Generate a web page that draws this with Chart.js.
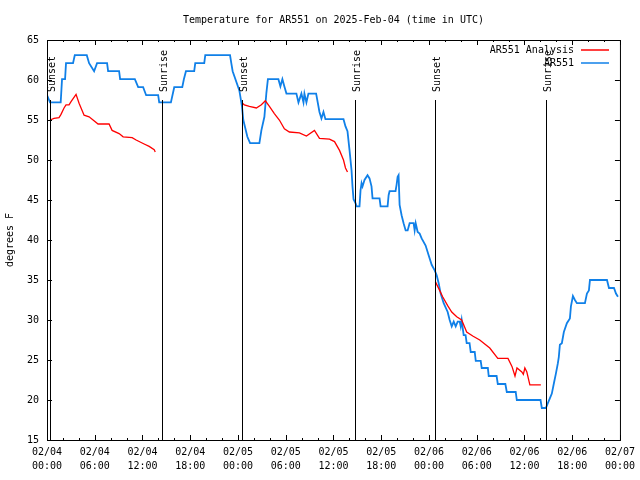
<!DOCTYPE html>
<html>
<head>
<meta charset="utf-8">
<title>Temperature for AR551</title>
<script src="https://cdn.jsdelivr.net/npm/chart.js@4"></script>
<style>
    body { margin: 0; background: #fff; }
    #wrap { width: 640px; height: 480px; }
</style>
</head>
<body>
<div id="wrap"><canvas id="tempChart" width="640" height="480"></canvas></div>
<script>
// Temperature for AR551 - hours since 02/04 00:00 UTC

const chartTitle = 'Temperature for AR551 on 2025-Feb-04 (time in UTC)';
const yTitle = 'degrees F';

const xTickDates = ['02/04', '02/04', '02/04', '02/04', '02/05', '02/05', '02/05', '02/05', '02/06', '02/06', '02/06', '02/06', '02/07'];
const xTickTimes = ['00:00', '06:00', '12:00', '18:00', '00:00', '06:00', '12:00', '18:00', '00:00', '06:00', '12:00', '18:00', '00:00'];

const sunHours = [0.38, 14.48, 24.55, 38.65, 48.72, 62.69];
const sunLabels = ['Sunset', 'Sunrise', 'Sunset', 'Sunrise', 'Sunset', 'Sunrise'];

// AR551 observations
const obsHours = [0, 0.38, 1.72, 1.89, 2.27, 2.39, 3.27, 3.49, 5.0, 5.29, 5.92, 6.29, 7.55, 7.68, 9.06, 9.19, 11.04, 11.46, 12.08, 12.46,
    13.97, 14.1, 15.57, 15.99, 17.0, 17.2, 17.46, 18.5, 18.63, 19.76, 19.89, 23.0, 23.16, 23.33, 24.17, 24.5, 24.67, 25.18, 25.52, 26.69,
    26.94, 27.32, 27.57, 27.76, 29.08, 29.33, 29.58, 29.83, 30.09, 31.34, 31.6, 31.97, 32.23, 32.35, 32.6, 32.85, 33.82, 34.24, 34.49, 34.74,
    34.99, 37.26, 37.51, 37.76, 38.02, 38.27, 38.39, 38.52, 38.77, 38.9, 39.27, 39.4, 39.53, 39.65, 39.9, 40.28, 40.53, 40.78, 40.91, 41.79,
    41.92, 42.8, 42.93, 43.05, 43.8, 43.93, 44.06, 44.18, 44.31, 44.56, 44.81, 45.07, 45.32, 45.57, 46.07, 46.2, 46.33, 46.58, 46.83, 47.08,
    47.58, 47.96, 48.34, 48.72, 48.97, 49.22, 49.47, 49.85, 50.35, 50.6, 50.86, 51.11, 51.36, 51.61, 51.86, 51.99, 52.11, 52.36, 52.6, 52.74,
    53.1, 53.25, 53.75, 53.88, 54.5, 54.63, 55.4, 55.51, 56.5, 56.65, 57.6, 57.78, 58.9, 59.04, 62.02, 62.18, 62.69, 62.94, 63.19, 63.44,
    63.7, 63.95, 64.2, 64.32, 64.45, 64.7, 64.95, 65.33, 65.71, 65.84, 66.09, 66.34, 66.59, 67.6, 67.85, 68.1, 68.23, 70.37, 70.62, 71.25,
    71.5, 71.75];
const obsTemps = [58.1, 57.2, 57.2, 60.1, 60.1, 62.1, 62.1, 63.1, 63.1, 62.1, 61.1, 62.1, 62.1, 61.1, 61.1, 60.1, 60.1, 59.1, 59.1, 58.1,
    58.1, 57.2, 57.2, 59.1, 59.1, 60.1, 61.1, 61.1, 62.1, 62.1, 63.1, 63.1, 62.1, 61.1, 58.7, 56.7, 55.0, 52.9, 52.1, 52.1,
    53.7, 55.4, 58.4, 60.1, 60.1, 59.2, 60.1, 59.2, 58.3, 58.3, 57.2, 58.3, 57.2, 58.3, 57.2, 58.3, 58.3, 56.0, 55.2, 56.0,
    55.1, 55.1, 54.2, 53.6, 51.2, 48.7, 46.7, 45.1, 44.6, 44.2, 44.2, 46.2, 47.1, 46.7, 47.5, 48.1, 47.7, 46.7, 45.2, 45.2,
    44.2, 44.2, 45.6, 46.1, 46.1, 46.9, 47.9, 48.1, 44.4, 43.1, 42.1, 41.2, 41.2, 42.1, 42.1, 41.2, 42.1, 41.0, 40.8, 40.2,
    39.3, 38.1, 36.9, 36.2, 35.6, 34.6, 33.3, 32.1, 31.0, 30.0, 29.2, 29.8, 29.2, 29.8, 29.8, 29.2, 30.0, 28.1, 28.1, 27.1,
    27.1, 26.0, 26.0, 24.9, 24.9, 24.0, 24.0, 23.0, 23.0, 22.0, 22.0, 21.0, 21.0, 20.0, 20.0, 19.0, 19.0, 19.6, 20.2, 20.8,
    22.1, 23.3, 24.6, 25.4, 26.9, 27.1, 28.5, 29.6, 30.2, 31.7, 33.0, 32.5, 32.1, 32.1, 33.3, 33.7, 35.0, 35.0, 34.0, 34.0,
    33.3, 32.9];

// AR551 Analysis (null = no analysis)
const anHours = [0.38, 0.88, 1.51, 1.76, 2.14, 2.39, 2.77, 3.02, 3.65, 4.03, 4.41, 4.66, 5.29, 5.79, 6.42, 7.8, 8.18, 9.06, 9.57, 10.7,
    11.2, 12.21, 12.84, 13.47, 13.6, 19.0,
    24.55, 24.8, 25.43, 26.31, 26.94, 27.44, 27.95, 28.57, 29.2, 29.83, 30.46, 31.72, 32.6, 33.61, 34.24, 35.5, 36.13, 36.76, 37.26, 37.51,
    37.76, 43.0,
    48.8, 49.34, 49.72, 50.35, 50.86, 51.49, 52.11, 52.74, 53.5, 54.38, 55.64, 56.65, 57.93, 58.43, 58.81, 59.06, 59.67, 59.86, 60.05, 60.3,
    60.68, 62.06];
const anTemps = [55.0, 55.2, 55.3, 55.7, 56.5, 56.9, 56.9, 57.3, 58.2, 57.1, 56.2, 55.6, 55.4, 55.0, 54.5, 54.5, 53.7, 53.3, 52.9, 52.8,
    52.5, 52.0, 51.7, 51.3, 51.0, null,
    57.1, 56.9, 56.7, 56.5, 56.9, 57.4, 56.7, 55.8, 55.0, 53.9, 53.5, 53.4, 53.0, 53.7, 52.7, 52.6, 52.3, 51.2, 50.0, 49.0,
    48.5, null,
    34.8, 33.7, 32.9, 31.8, 31.0, 30.4, 30.0, 28.5, 28.0, 27.5, 26.5, 25.2, 25.2, 24.2, 23.0, 24.0, 23.5, 23.2, 24.0, 23.5,
    21.9, 21.9];

const RED = '#ff0000';
const BLUE = 'rgb(16, 128, 232)';
const FONT = "'DejaVu Sans Mono', 'Liberation Mono', monospace";

Chart.defaults.font.family = FONT;
Chart.defaults.font.size = 10;
Chart.defaults.color = '#000';

// gnuplot look: frame, inward ticks, sunrise/sunset markers, legend, title
const gnuplotDecor = {
    id: 'gnuplotDecor',
    afterDatasetsDraw(chart) {
        const ctx = chart.ctx;
        const xs = chart.scales.x;
        const ys = chart.scales.y;
        const a = chart.chartArea;

        ctx.save();
        ctx.strokeStyle = '#000';
        ctx.lineWidth = 1;

        // sun markers
        ctx.font = '10px ' + FONT;
        ctx.fillStyle = '#000';
        sunHours.forEach((h, i) => {
            const px = Math.round(xs.getPixelForValue(h)) + 0.5;
            ctx.beginPath();
            ctx.moveTo(px, ys.getPixelForValue(57.5));
            ctx.lineTo(px, a.bottom);
            ctx.stroke();

            ctx.save();
            ctx.translate(px + 1.5, 92);
            ctx.rotate(-Math.PI / 2);
            ctx.textAlign = 'left';
            ctx.textBaseline = 'middle';
            ctx.fillText(sunLabels[i], 0, 0);
            ctx.restore();
        });

        // frame
        ctx.strokeRect(a.left + 0.5, a.top + 0.5, a.right - a.left, a.bottom - a.top);

        // x ticks (major 6h, minor 2h) on bottom and top
        ctx.beginPath();
        for (let h = 0; h <= 72; h += 2) {
            const px = Math.round(xs.getPixelForValue(h)) + 0.5;
            const len = (h % 6 === 0) ? 5 : 2;
            ctx.moveTo(px, a.bottom);
            ctx.lineTo(px, a.bottom - len);
            ctx.moveTo(px, a.top);
            ctx.lineTo(px, a.top + len);
        }
        // y ticks left and right
        for (let v = 15; v <= 65; v += 5) {
            const py = Math.round(ys.getPixelForValue(v)) + 0.5;
            ctx.moveTo(a.left, py);
            ctx.lineTo(a.left + 5, py);
            ctx.moveTo(a.right, py);
            ctx.lineTo(a.right - 5, py);
        }
        ctx.stroke();

        // legend
        const legend = [
            { label: 'AR551 Analysis', color: RED, y: 50 },
            { label: 'AR551', color: BLUE, y: 63 }
        ];
        ctx.textAlign = 'right';
        ctx.textBaseline = 'middle';
        legend.forEach(item => {
            ctx.fillStyle = '#000';
            ctx.fillText(item.label, 574, item.y);
            ctx.strokeStyle = item.color;
            ctx.lineWidth = 1.5;
            ctx.beginPath();
            ctx.moveTo(581, item.y);
            ctx.lineTo(609, item.y);
            ctx.stroke();
        });

        // title, centred over the plot
        ctx.fillStyle = '#000';
        ctx.textAlign = 'center';
        ctx.fillText(chartTitle, (a.left + a.right) / 2, 20);
        ctx.restore();
    }
};

const ctx = document.getElementById('tempChart').getContext('2d');

new Chart(ctx, {
    type: 'line',
    data: {
        datasets: [{
            label: 'AR551 Analysis',
            data: anHours.map((h, i) => ({ x: h, y: anTemps[i] })),
            borderColor: RED,
            borderWidth: 1.3,
            pointRadius: 0,
            tension: 0,
            spanGaps: false
        }, {
            label: 'AR551',
            data: obsHours.map((h, i) => ({ x: h, y: obsTemps[i] })),
            borderColor: BLUE,
            borderWidth: 1.8,
            pointRadius: 0,
            tension: 0
        }]
    },
    options: {
        responsive: false,
        animation: false,
        devicePixelRatio: 1,
        layout: {
            padding: { top: 40, right: 19, left: 0, bottom: 0 }
        },
        plugins: {
            legend: { display: false },
            title: { display: false },
            tooltip: { enabled: false }
        },
        scales: {
            x: {
                type: 'linear',
                min: 0,
                max: 72,
                grid: { display: false, drawTicks: false },
                border: { display: false },
                ticks: {
                    stepSize: 6,
                    autoSkip: false,
                    maxRotation: 0,
                    padding: 5,
                    font: { size: 10, lineHeight: 1.45 },
                    callback: (v) => {
                        const i = Math.round(v / 6);
                        return [xTickDates[i], xTickTimes[i]];
                    }
                },
                afterFit: (scale) => { scale.height = 40; }
            },
            y: {
                min: 15,
                max: 65,
                grid: { display: false, drawTicks: false },
                border: { display: false },
                ticks: {
                    stepSize: 5,
                    padding: 8
                },
                title: {
                    display: true,
                    text: yTitle,
                    padding: { top: 4, bottom: 0 },
                    font: { size: 10 }
                },
                afterFit: (scale) => { scale.width = 47; }
            }
        }
    },
    plugins: [gnuplotDecor]
});
</script>
</body>
</html>
